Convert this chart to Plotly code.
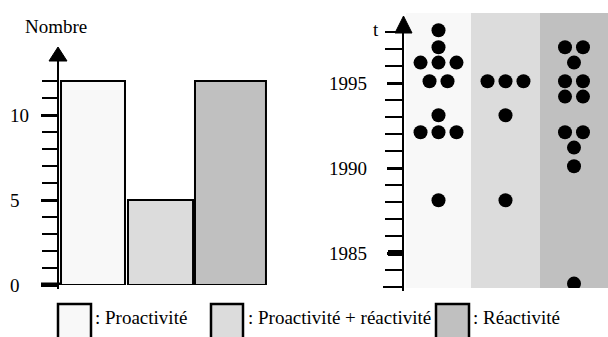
import plotly.graph_objects as go

# ---------------- data ----------------
categories = ["Proactivité", "Proactivité + réactivité", "Réactivité"]
counts = [12, 5, 12]
count_tick_labels = [0, 5, 10]
count_major_ticks = [0, 5, 10]
count_minor_ticks = [1, 2, 3, 4, 6, 7, 8, 9, 11, 12]

year_tick_labels = [1985, 1990, 1995]
year_minor_ticks = [1983, 1984, 1986, 1987, 1988, 1989, 1991, 1992, 1993, 1994, 1996, 1997, 1998]

pro_years = [1998.1, 1997.1, 1996.2, 1996.2, 1996.2, 1995.1, 1995.1, 1993.1, 1992.1, 1992.1, 1992.1, 1988.1]
pro_slots = [0, 0, -1, 0, 1, -0.5, 0.5, 0, -1, 0, 1, 0]
mix_years = [1995.1, 1995.1, 1995.1, 1993.1, 1988.1]
mix_slots = [-1, 0, 1, 0, 0]
rea_years = [1997.1, 1997.1, 1996.2, 1995.1, 1995.1, 1994.2, 1994.2, 1992.1, 1992.1, 1991.2, 1990.1, 1983.2]
rea_slots = [-0.5, 0.5, 0, -0.5, 0.5, -0.5, 0.5, -0.5, 0.5, 0, 0, 0]

# ---------------- style ----------------
W, H = 608, 337
FONT = "Liberation Serif"
FS = 19
colors = ["#f8f8f8", "#dcdcdc", "#c0c0c0"]
bar_offsets = [-0.457, -0.5, -0.543]
bar_widths = [0.914, 0.929, 1.014]
band_edges = [0, 0.965, 1.99, 3.0]
slot_w = 0.267


def X(p):
    return p / W


def Y(p):
    return 1 - p / H


fig = go.Figure()

# left: bar chart
fig.add_trace(go.Bar(
    x=[0, 1, 2], y=counts, offset=bar_offsets, width=bar_widths,
    marker=dict(color=colors, line=dict(color="black", width=2)),
    xaxis="x", yaxis="y", hoverinfo="skip", showlegend=False,
))

# right: dot plot
centers = [(band_edges[i] + band_edges[i + 1]) / 2 for i in range(3)]
for c, yrs, slots in zip(centers, [pro_years, mix_years, rea_years], [pro_slots, mix_slots, rea_slots]):
    fig.add_trace(go.Scatter(
        x=[c + s * slot_w for s in slots], y=yrs, mode="markers",
        marker=dict(color="black", size=14),
        xaxis="x2", yaxis="y2", hoverinfo="skip", showlegend=False,
    ))

y1_top = 12.3
y2_range = [1995 - (288 - 83) / 17, 1995 + (83 - 13) / 17]

fig.update_layout(
    width=W, height=H, margin=dict(l=0, r=0, t=0, b=0),
    paper_bgcolor="white", plot_bgcolor="rgba(0,0,0,0)",
    font=dict(family=FONT, size=FS, color="black"),
    bargap=0,
    xaxis=dict(domain=[X(58), X(268)], range=[-0.5, 2.5], visible=False, fixedrange=True),
    yaxis=dict(
        domain=[Y(285), Y(285 - y1_top * 17)], range=[0, y1_top], anchor="x",
        showgrid=False, zeroline=False, showline=False, showticklabels=False,
        tickmode="array", tickvals=count_major_ticks, ticks="outside",
        ticklen=16, tickwidth=3, tickcolor="black",
        minor=dict(tickmode="array", tickvals=count_minor_ticks, ticks="outside",
                   ticklen=15, tickwidth=2, tickcolor="black", showgrid=False),
    ),
    xaxis2=dict(domain=[X(403), 1], range=[-0.045, 3.0], visible=False, anchor="y2"),
    yaxis2=dict(
        domain=[Y(288), Y(13)], range=y2_range, anchor="x2",
        showgrid=False, zeroline=False, showline=False, showticklabels=False,
        tickmode="array", tickvals=year_tick_labels, ticks="outside",
        ticklen=15, tickwidth=3, tickcolor="black",
        minor=dict(tickmode="array", tickvals=year_minor_ticks, ticks="outside",
                   ticklen=17, tickwidth=2, tickcolor="black", showgrid=False),
    ),
)

shapes = []
# background bands for dot plot
for i in range(3):
    shapes.append(dict(type="rect", xref="x2", yref="y2 domain",
                       x0=band_edges[i], x1=band_edges[i + 1], y0=0, y1=1,
                       fillcolor=colors[i], line=dict(width=0), layer="below"))
# axis lines + arrows
shapes.append(dict(type="line", xref="paper", yref="paper", x0=X(58), x1=X(58), y0=Y(289), y1=Y(60),
                   line=dict(color="black", width=2)))
shapes.append(dict(type="path", xref="paper", yref="paper",
                   path=f"M {X(49)} {Y(61)} L {X(67)} {Y(61)} L {X(58)} {Y(47)} Z",
                   fillcolor="black", line=dict(color="black", width=1)))
shapes.append(dict(type="line", xref="paper", yref="y", x0=X(41), x1=X(60), y0=0, y1=0,
                   line=dict(color="black", width=5)))
shapes.append(dict(type="line", xref="paper", yref="paper", x0=X(403), x1=X(403), y0=Y(291), y1=Y(32),
                   line=dict(color="black", width=2)))
shapes.append(dict(type="path", xref="paper", yref="paper",
                   path=f"M {X(395)} {Y(33)} L {X(412)} {Y(33)} L {X(403.5)} {Y(16)} Z",
                   fillcolor="black", line=dict(color="black", width=1)))
shapes.append(dict(type="line", xref="paper", yref="y2", x0=X(388), x1=X(403), y0=1985, y1=1985,
                   line=dict(color="black", width=6)))
shapes.append(dict(type="line", xref="paper", yref="y2", x0=X(383), x1=X(403), y0=1983, y1=1983,
                   line=dict(color="black", width=2)))

# legend boxes
legend_boxes = [(58, 91), (211, 243), (436, 469)]
legend_text_x = [93, 246, 471]
for (a, b), col in zip(legend_boxes, colors):
    shapes.append(dict(type="rect", xref="paper", yref="paper", x0=X(a), x1=X(b), y0=Y(345), y1=Y(304),
                       fillcolor=col, line=dict(color="black", width=2.5)))
fig.update_layout(shapes=shapes)

ann = []
ann.append(dict(text="Nombre", x=X(56), y=Y(27), xref="paper", yref="paper",
                xanchor="center", yanchor="middle", showarrow=False))
for v in count_tick_labels:
    ann.append(dict(text=str(v), x=X(8), y=v, xref="paper", yref="y",
                    xanchor="left", yanchor="middle", showarrow=False))
ann.append(dict(text="t", x=X(376), y=Y(30), xref="paper", yref="paper",
                xanchor="center", yanchor="middle", showarrow=False))
for v in year_tick_labels:
    ann.append(dict(text=str(v), x=X(369), y=v, xref="paper", yref="y2",
                    xanchor="right", yanchor="middle", showarrow=False))
for tx, name in zip(legend_text_x, categories):
    ann.append(dict(text=": " + name, x=X(tx), y=Y(317), xref="paper", yref="paper",
                    xanchor="left", yanchor="middle", showarrow=False))
fig.update_layout(annotations=ann)

fig.write_html("out.html", config={"displayModeBar": False, "staticPlot": True},
               post_script="document.body.style.margin='0px';document.body.style.overflow='hidden';")
